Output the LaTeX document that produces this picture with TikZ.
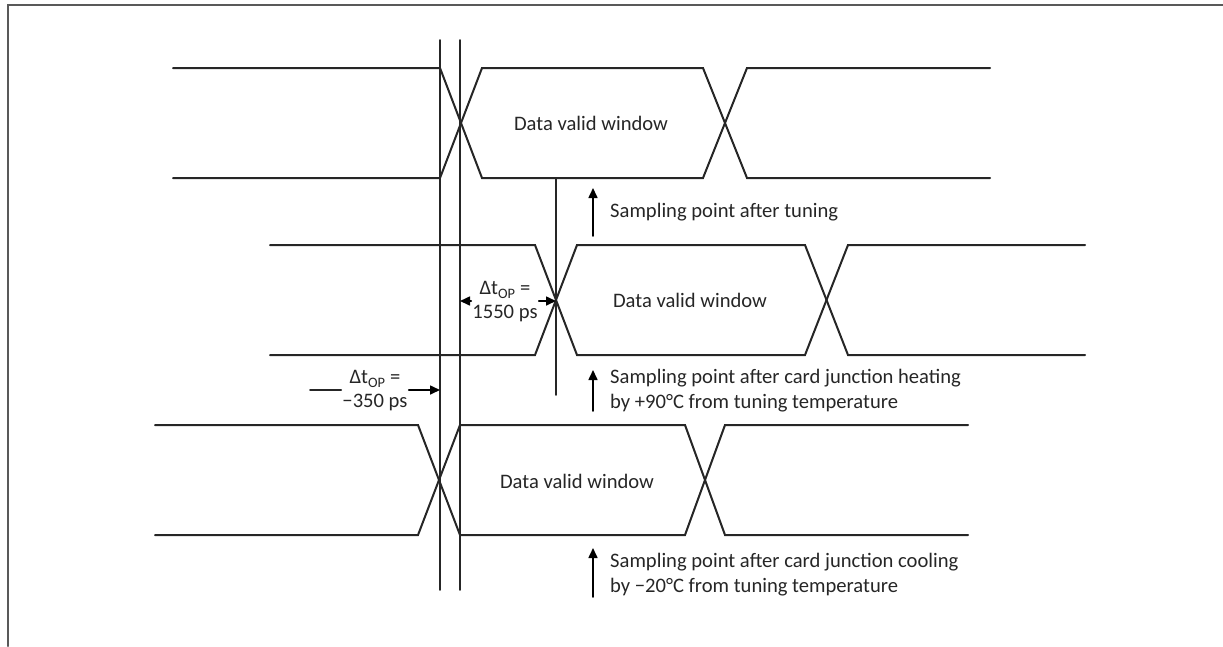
\documentclass[tikz,border=0pt]{standalone}
\usepackage{fontspec}
\setmainfont{Carlito}
\usetikzlibrary{arrows.meta}

\begin{document}
\begin{tikzpicture}[
  x=1pt,y=-1pt,
  line cap=round,
  every node/.style={font=\fontsize{20.6}{24}\selectfont,text=black!85},
  signal/.style={line width=2pt,black!85},
  marker/.style={line width=1.6pt,black!85},
  pointer/.style={line width=1.6pt,-{Triangle[length=10pt,width=9pt]}},
  note/.style={anchor=west,align=left,inner sep=0pt}
]
  \useasboundingbox (0,0) rectangle (1223,646);
  \draw[line width=2pt,black!65] (8,646) -- (8,5) -- (1223,5);

  % eye patterns: top level, x0, edge start, edge end, window end, next edge, x end
  \foreach \yh/\xa/\xb/\xc/\xd/\xe/\xf in {68/173/440/482/703/747/990,
                                          245/270/535/577/805/848/1085,
                                          425/155/418/460/685/725/968}{
    \pgfmathsetmacro{\yl}{\yh+110}
    \draw[signal] (\xa,\yh) -- (\xb,\yh) -- (\xc,\yl) -- (\xd,\yl) -- (\xe,\yh) -- (\xf,\yh);
    \draw[signal] (\xa,\yl) -- (\xb,\yl) -- (\xc,\yh) -- (\xd,\yh) -- (\xe,\yl) -- (\xf,\yl);
  }

  \node (win1) at (591,123) {Data valid window};
  \node (win2) at (690,300) {Data valid window};
  \node (win3) at (577,481) {Data valid window};

  % sampling markers
  \coordinate (lineA top) at (440,40);
  \coordinate (lineA bot) at (440,590);
  \coordinate (lineB top) at (460,40);
  \coordinate (lineB bot) at (460,590);
  \coordinate (lineC top) at (556,178);
  \coordinate (lineC bot) at (556,395);
  \draw[marker] (lineA top) -- (lineA bot);
  \draw[marker] (lineB top) -- (lineB bot);
  \draw[marker] (lineC top) -- (lineC bot);

  % sampling point notes
  \node[note] (tuned) at (610,212) {Sampling point after tuning};
  \node[note] (heated) at (610,391) {Sampling point after card junction heating\\[1pt]by +90°C from tuning temperature};
  \node[note] (cooled) at (610,575) {Sampling point after card junction cooling\\[1pt]by −20°C from tuning temperature};
  \coordinate (tuned tail) at (593,236);
  \coordinate (tuned tip) at (593,188);
  \coordinate (heated tail) at (593,411);
  \coordinate (heated tip) at (593,370);
  \coordinate (cooled tail) at (593,597);
  \coordinate (cooled tip) at (593,548);
  \draw[pointer] (tuned tail) -- (tuned tip);
  \draw[pointer] (heated tail) -- (heated tip);
  \draw[pointer] (cooled tail) -- (cooled tip);

  % timing offsets
  \node[align=center,inner sep=1pt] (hot) at (505,302) {Δt\textsubscript{OP} =\\1550 ps};
  \draw[pointer] (hot.west |- 0,301) -- (lineB top |- 0,301);
  \draw[pointer] (hot.east |- 0,301) -- (lineC top |- 0,301);

  \node[align=center,inner sep=1pt] (cold) at (375,391) {Δt\textsubscript{OP} =\\−350 ps};
  \coordinate (cold lead) at (310,390);
  \draw[marker] (cold lead) -- (cold.west |- 0,390);
  \draw[pointer] (cold.east |- 0,390) -- (lineA top |- 0,390);
\end{tikzpicture}
\end{document}
